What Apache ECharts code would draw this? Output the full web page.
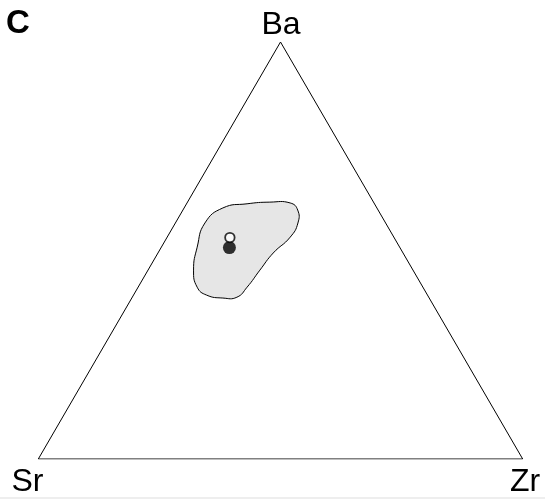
<!DOCTYPE html>
<html>
<head>
<meta charset="utf-8">
<script src="https://cdn.jsdelivr.net/npm/echarts@6/dist/echarts.min.js"></script>
<style>
  html, body { margin: 0; padding: 0; background: #fff; }
  #chart { width: 545px; height: 499px; }
</style>
</head>
<body>
<div id="chart"></div>
<script>
// ternary compositions, fractions of Ba, Sr, Zr (Sr = 1 - Ba - Zr)
const apexNames = ['Ba', 'Sr', 'Zr'];

// outline of the grey field
const fieldBa = [0.566, 0.602, 0.612, 0.616, 0.614, 0.597, 0.566, 0.532, 0.494,
                 0.453, 0.412, 0.388, 0.386, 0.393, 0.412, 0.453, 0.508];
const fieldZr = [0.061, 0.080, 0.125, 0.170, 0.213, 0.237, 0.253, 0.254, 0.238,
                 0.231, 0.225, 0.216, 0.188, 0.151, 0.122, 0.094, 0.074];

// the two samples
const filledBa = [0.507];
const filledZr = [0.141];
const openBa = [0.531];
const openZr = [0.130];

const H = Math.sqrt(3) / 2;

// ternary -> plain x/y on the value axes
function toXY(ba, zr) {
    return [zr + ba / 2, ba * H];
}

function series(baArr, zrArr) {
    return baArr.map((b, i) => toXY(b, zrArr[i]));
}

const frame = [toXY(0, 0), toXY(0, 1), toXY(1, 0), toXY(0, 0)]; // Sr, Zr, Ba corners

var myChart = echarts.init(document.getElementById('chart'));

const labelFont = '32px "Liberation Sans", Arial, sans-serif';

const option = {
    backgroundColor: '#fff',
    animation: false,
    grid: { left: 38.3, right: 22.3, top: 42, bottom: 40 },
    xAxis: { type: 'value', min: 0, max: 1, show: false },
    yAxis: { type: 'value', min: 0, max: H, show: false },
    graphic: [
        { type: 'text', x: 6, y: 24, style: { text: 'C', font: 'bold 33px "Liberation Sans", Arial, sans-serif', fill: '#000', align: 'left', verticalAlign: 'middle' } },
        { type: 'text', x: 281, y: 25, style: { text: apexNames[0], font: labelFont, fill: '#000', align: 'center', verticalAlign: 'middle' } },
        { type: 'text', x: 27.5, y: 482, style: { text: apexNames[1], font: labelFont, fill: '#000', align: 'center', verticalAlign: 'middle' } },
        { type: 'text', x: 525, y: 482, style: { text: apexNames[2], font: labelFont, fill: '#000', align: 'center', verticalAlign: 'middle' } },
        { type: 'rect', shape: { x: 0, y: 497, width: 545, height: 2 }, style: { fill: '#eeeeee' }, z: 100 }
    ],
    series: [
        {
            type: 'line',
            data: frame,
            symbol: 'none',
            lineStyle: { color: '#000', width: 1 },
            silent: true
        },
        {
            type: 'custom',
            data: [0],
            renderItem: function (params, api) {
                const pts = series(fieldBa, fieldZr).map(p => api.coord(p));
                return {
                    type: 'polygon',
                    shape: { points: pts, smooth: 0.5 },
                    style: { fill: '#e6e6e6', stroke: '#000', lineWidth: 1 }
                };
            },
            z: 2
        },
        {
            type: 'scatter',
            data: series(filledBa, filledZr),
            symbol: 'circle',
            symbolSize: 13,
            itemStyle: { color: '#000' },
            z: 3
        },
        {
            type: 'scatter',
            data: series(openBa, openZr),
            symbol: 'circle',
            symbolSize: 9.5,
            itemStyle: { color: '#fff', borderColor: '#000', borderWidth: 1.8 },
            z: 4
        }
    ]
};

option && myChart.setOption(option);
</script>
</body>
</html>
